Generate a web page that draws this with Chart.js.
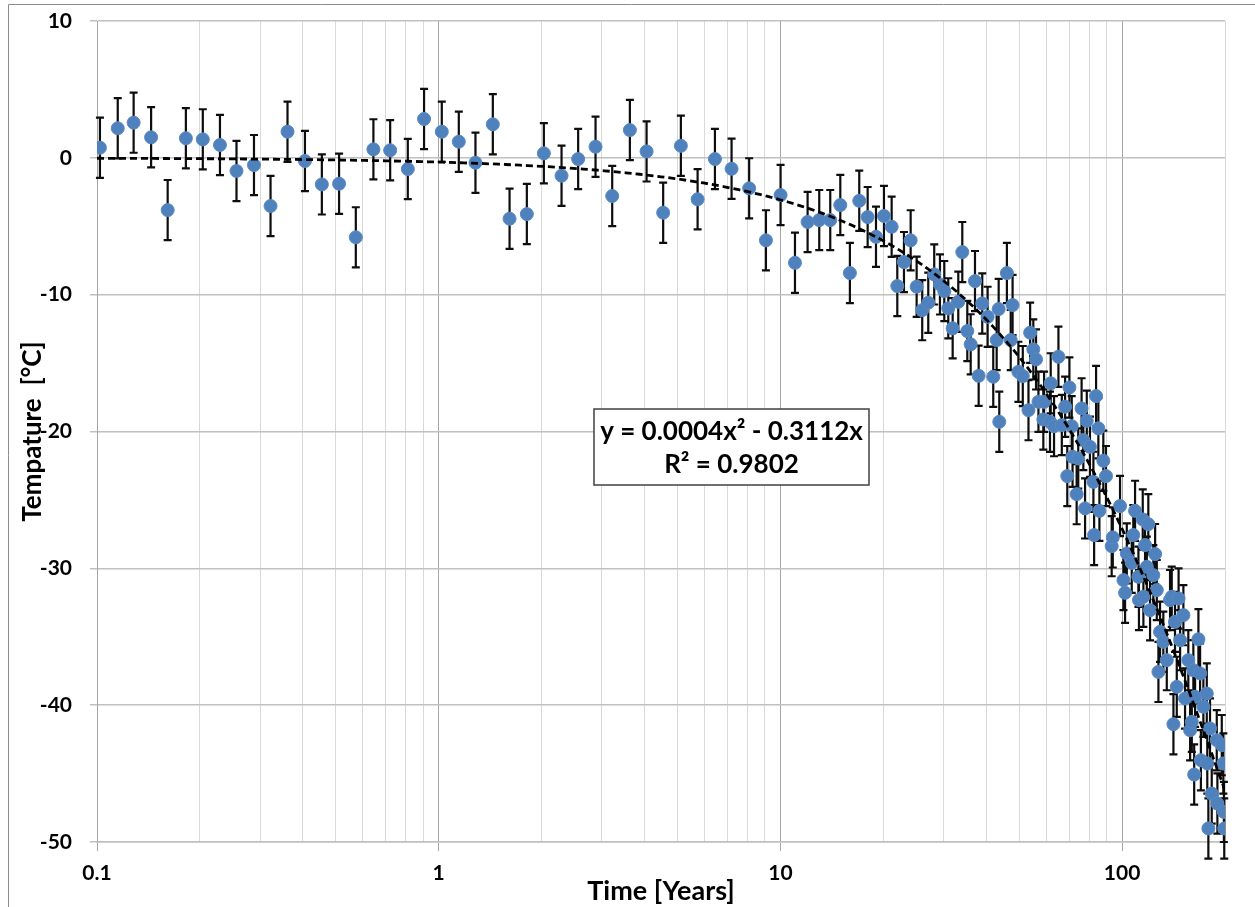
<!DOCTYPE html>
<html>
<head>
<meta charset="utf-8">
<title>Temperature vs time</title>
<script src="https://cdn.jsdelivr.net/npm/chart.js@4.4.1/dist/chart.umd.min.js"></script>
<style>
  html, body { margin: 0; padding: 0; background: #ffffff; }
  #wrap { width: 1255px; height: 907px; position: relative; }
</style>
</head>
<body>
<div id="wrap"><canvas id="chart" width="1255" height="907"></canvas></div>
<script>
// Measured samples: time in years, temperature in °C
const TIME_YEARS = [
  0.102, 0.115, 0.128, 0.144, 0.161, 0.182, 0.204, 0.229, 0.256, 0.288,
  0.322, 0.361, 0.406, 0.455, 0.511, 0.572, 0.644, 0.721, 0.812, 0.906,
  1.021, 1.145, 1.281, 1.440, 1.612, 1.811, 2.031, 2.288, 2.559, 2.877,
  3.219, 3.626, 4.058, 4.538, 5.113, 5.723, 6.432, 7.195, 8.10, 9.07,
  10.01, 11.03, 12.01, 12.99, 13.99, 14.97, 15.97, 17.01, 18.0, 19.04,
  20.09, 21.16, 21.98, 22.99, 24.05, 25.04, 26.0, 27.08, 28.19, 29.3,
  30.17, 30.99, 31.92, 33.15, 34.06, 35.23, 36.04, 37.1, 38.03, 38.96,
  40.4, 41.96, 42.94, 43.52, 43.7, 46.0, 47.2, 47.8, 49.7, 51.2,
  53.2, 53.8, 54.96, 55.98, 56.9, 58.8, 59.1, 61.5, 61.8, 63.2,
  65.1, 66.6, 68.1, 69.1, 70.1, 71.2, 71.6, 73.6, 74.4, 76.1,
  77.0, 77.9, 78.8, 80.5, 82.4, 82.8, 83.9, 85.2, 85.8, 88.1,
  89.7, 93.2, 93.9, 98.6, 100.9, 102.0, 103.2, 106.7, 107.8, 109.1,
  111.6, 112.0, 114.9, 115.4, 116.7, 118.1, 119.3, 120.7, 123.4, 124.9,
  126.3, 127.7, 129.1, 132.0, 135.1, 138.1, 139.7, 141.3, 142.8, 144.5,
  146.3, 147.8, 151.1, 152.8, 156.2, 158.1, 159.9, 161.6, 162.5, 163.5,
  167.2, 169.1, 170.0, 172.9, 176.9, 177.5, 178.8, 180.8, 182.9, 189.2,
  190.0, 195.7, 197.8, 198.5, 199.0
];
const TEMP_C = [
  0.74, 2.16, 2.57, 1.50, -3.82, 1.43, 1.35, 0.94, -0.96, -0.53,
  -3.52, 1.91, -0.23, -1.94, -1.89, -5.81, 0.62, 0.55, -0.82, 2.84,
  1.91, 1.18, -0.36, 2.45, -4.45, -4.11, 0.33, -1.31, -0.09, 0.81,
  -2.79, 2.03, 0.47, -4.01, 0.88, -3.03, -0.09, -0.80, -2.23, -6.03,
  -2.72, -7.67, -4.69, -4.55, -4.55, -3.45, -8.42, -3.14, -4.33, -5.77,
  -4.25, -5.04, -9.37, -7.62, -6.03, -9.42, -11.13, -10.59, -8.52, -9.25,
  -9.74, -11.0, -12.46, -10.52, -6.89, -12.66, -13.63, -9.01, -15.93, -10.64,
  -11.62, -16.0, -13.32, -11.05, -19.29, -8.42, -13.32, -10.76, -15.64, -15.95,
  -18.44, -12.78, -14.0, -14.73, -17.83, -19.12, -17.83, -19.29, -16.48, -19.61,
  -14.54, -19.53, -18.19, -23.26, -16.78, -19.61, -21.85, -24.58, -21.97, -18.31,
  -20.63, -25.62, -19.22, -21.12, -23.68, -27.57, -17.41, -19.77, -25.8, -22.14,
  -23.26, -28.38, -27.74, -25.45, -30.86, -31.79, -28.91, -29.6, -27.57, -25.8,
  -30.62, -32.32, -26.43, -32.08, -28.30, -29.89, -26.77, -33.06, -30.5, -28.96,
  -31.59, -37.57, -34.64, -35.37, -36.71, -32.32, -32.08, -41.39, -33.91, -38.66,
  -32.2, -35.25, -33.42, -39.51, -36.71, -41.83, -41.22, -37.44, -45.07, -39.39,
  -35.18, -37.68, -44.02, -40.12, -39.15, -44.26, -49.01, -41.70, -46.46, -42.56,
  -47.19, -42.92, -44.26, -47.8, -49.01
];
// Half-length of every error bar, °C
const TEMP_ERROR = 2.2;

// Fitted polynomial y = a2·x² + a1·x and its goodness of fit
const FIT_A2 = 0.0004;
const FIT_A1 = -0.3112;
const FIT_R2 = 0.9802;

// Axis ranges and labelled ticks
const X_RANGE = [0.1, 200];
const Y_RANGE = [-50, 10];
const Y_STEP = 10;
const X_TICK_LABELS = [0.1, 1, 10, 100];

const FONT = 'Lato, "Open Sans", "DejaVu Sans", sans-serif';

const points = TIME_YEARS.map((t, i) => ({ x: t, y: TEMP_C[i] }));

// Trendline sampled evenly along the logarithmic time axis
const trend = [];
const TREND_SAMPLES = 160;
const lx0 = Math.log10(X_RANGE[0]), lx1 = Math.log10(X_RANGE[1]);
for (let i = 0; i <= TREND_SAMPLES; i++) {
  const x = Math.pow(10, lx0 + (lx1 - lx0) * i / TREND_SAMPLES);
  trend.push({ x, y: FIT_A2 * x * x + FIT_A1 * x });
}

function mantissa(v) {
  const e = Math.floor(Math.log10(v) + 1e-9);
  return v / Math.pow(10, e);
}
function isDecade(v) { return Math.abs(mantissa(v) - 1) < 1e-6; }

// Vertical error bars with flat caps, drawn under the markers
const errorBars = {
  id: 'errorBars',
  beforeDatasetsDraw(chart) {
    const meta = chart.getDatasetMeta(0);
    const ys = chart.scales.y;
    const c = chart.ctx;
    c.save();
    c.strokeStyle = '#0d0d0d';
    c.lineWidth = 2.2;
    const cap = 4;
    meta.data.forEach((el, i) => {
      const x = el.x;
      const top = ys.getPixelForValue(TEMP_C[i] + TEMP_ERROR);
      const bot = ys.getPixelForValue(TEMP_C[i] - TEMP_ERROR);
      c.beginPath();
      c.moveTo(x, top); c.lineTo(x, bot);
      c.moveTo(x - cap, top); c.lineTo(x + cap, top);
      c.moveTo(x - cap, bot); c.lineTo(x + cap, bot);
      c.stroke();
    });
    c.restore();
  }
};

// Thin frame around the whole chart
const chartFrame = {
  id: 'chartFrame',
  afterDraw(chart) {
    const c = chart.ctx;
    c.save();
    c.strokeStyle = '#8c8c8c';
    c.lineWidth = 1;
    c.beginPath();
    c.moveTo(8.5, chart.height);
    c.lineTo(8.5, 4.5);
    c.lineTo(chart.width, 4.5);
    c.stroke();
    c.restore();
  }
};

// Boxed label with the fit equation
const fitLabel = {
  id: 'fitLabel',
  afterDraw(chart) {
    const a = chart.chartArea;
    const w = a.right - a.left, h = a.bottom - a.top;
    const bx = a.left + w * 0.4406, by = a.top + h * 0.4726;
    const bw = 275, bh = 76;
    const c = chart.ctx;
    c.save();
    c.fillStyle = '#ffffff';
    c.fillRect(bx, by, bw, bh);
    c.strokeStyle = '#404040';
    c.lineWidth = 1.5;
    c.strokeRect(bx, by, bw, bh);
    c.fillStyle = '#000000';
    c.font = 'bold 26px ' + FONT;
    c.textAlign = 'center';
    c.textBaseline = 'middle';
    const a2 = FIT_A2.toFixed(4), a1 = Math.abs(FIT_A1).toFixed(4);
    c.fillText('y = ' + a2 + 'x\u00B2 - ' + a1 + 'x', bx + bw / 2, by + 23);
    c.fillText('R\u00B2 = ' + FIT_R2.toFixed(4), bx + bw / 2, by + 56);
    c.restore();
  }
};

const tickFont = { family: FONT, weight: 'bold', size: 21 };
const titleFont = { family: FONT, weight: 'bold', size: 27 };

new Chart(document.getElementById('chart'), {
  type: 'scatter',
  data: {
    datasets: [
      {
        label: 'Temperature',
        data: points,
        order: 2,
        pointRadius: 6.5,
        pointHoverRadius: 6.5,
        pointBackgroundColor: '#4f81bd',
        pointBorderColor: '#5a8ac4',
        pointBorderWidth: 1
      },
      {
        label: 'Fit',
        data: trend,
        order: 1,
        showLine: true,
        pointRadius: 0,
        borderColor: '#000000',
        borderWidth: 2.8,
        borderDash: [7, 4],
        tension: 0
      }
    ]
  },
  options: {
    responsive: false,
    animation: false,
    events: [],
    layout: { padding: { top: 21, right: 30, bottom: 0, left: 0 } },
    plugins: { legend: { display: false }, tooltip: { enabled: false } },
    scales: {
      x: {
        type: 'logarithmic',
        min: X_RANGE[0],
        max: X_RANGE[1],
        afterFit(scale) { scale.height = 65; scale.paddingLeft = 0; scale.paddingRight = 0; },
        afterBuildTicks(scale) {
          scale.ticks = scale.ticks.filter(t => Math.abs(mantissa(t.value) - 1.5) > 1e-6);
        },
        border: { color: '#c0c0c0', width: 1.5 },
        grid: {
          color: ctx => (ctx.tick && isDecade(ctx.tick.value)) ? '#a6a6a6' : '#d9d9d9',
          tickColor: ctx => (ctx.tick && isDecade(ctx.tick.value)) ? '#a6a6a6' : 'rgba(0,0,0,0)',
          lineWidth: 1,
          tickLength: 9
        },
        ticks: {
          autoSkip: false,
          maxRotation: 0,
          padding: 10,
          color: '#000000',
          font: tickFont,
          callback: v => X_TICK_LABELS.some(l => Math.abs(l - v) < 1e-9) ? String(v) : ''
        },
        title: {
          display: true,
          text: 'Time [Years]',
          color: '#000000',
          font: titleFont,
          padding: { top: 0, bottom: 0 }
        }
      },
      y: {
        min: Y_RANGE[0],
        max: Y_RANGE[1],
        afterFit(scale) { scale.width = 97; scale.paddingTop = 0; scale.paddingBottom = 0; },
        border: { color: '#a6a6a6', width: 1 },
        grid: { color: '#c0c0c0', lineWidth: 1.5, tickLength: 7, tickColor: '#c0c0c0' },
        ticks: {
          stepSize: Y_STEP,
          padding: 18,
          color: '#000000',
          font: tickFont
        },
        title: {
          display: true,
          text: 'Tempature  [\u00B0C]',
          color: '#000000',
          font: { family: FONT, weight: 'bold', size: 26 },
          padding: { top: 17, bottom: 0 }
        }
      }
    }
  },
  plugins: [errorBars, chartFrame, fitLabel]
});
</script>
</body>
</html>
